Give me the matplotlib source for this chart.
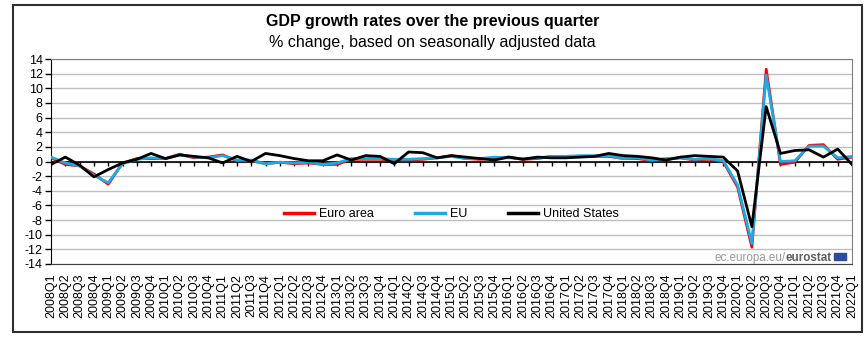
import matplotlib.pyplot as plt
from matplotlib.patches import Rectangle

plt.rcParams['font.family'] = ['Liberation Sans', 'DejaVu Sans']

# quarters 2008Q1 .. 2022Q1
quarters = [f"{y}Q{q}" for y in range(2008, 2023) for q in range(1, 5)][:57]

euro_area = [0.5, -0.4, -0.6, -1.7, -3.1, -0.2, 0.4, 0.4,
             0.4, 1.0, 0.5, 0.6, 0.9, 0.1, 0.1, -0.3,
             -0.1, -0.3, -0.2, -0.4, -0.4, 0.3, 0.3, 0.3,
             0.2, 0.2, 0.3, 0.5, 0.8, 0.4, 0.3, 0.5,
             0.6, 0.3, 0.4, 0.7, 0.7, 0.7, 0.7, 0.7,
             0.4, 0.4, 0.1, 0.3, 0.5, 0.2, 0.3, 0.0,
             -3.5, -11.7, 12.6, -0.4, -0.1, 2.2, 2.3, 0.3,
             0.6]
eu = [0.6, -0.2, -0.6, -1.9, -2.9, -0.3, 0.3, 0.5,
      0.4, 0.9, 0.6, 0.5, 0.8, 0.2, 0.2, -0.3,
      -0.1, -0.2, -0.1, -0.4, -0.2, 0.4, 0.4, 0.4,
      0.3, 0.3, 0.4, 0.5, 0.7, 0.4, 0.4, 0.6,
      0.5, 0.4, 0.5, 0.7, 0.7, 0.8, 0.8, 0.8,
      0.4, 0.5, 0.2, 0.4, 0.5, 0.3, 0.4, 0.1,
      -3.2, -11.2, 11.8, 0.0, 0.1, 2.1, 2.1, 0.5,
      0.7]
united_states = [-0.4, 0.6, -0.5, -2.1, -1.1, -0.2, 0.3, 1.1,
                 0.4, 0.9, 0.7, 0.5, -0.2, 0.7, 0.0, 1.1,
                 0.8, 0.4, 0.1, 0.1, 0.9, 0.2, 0.8, 0.7,
                 -0.3, 1.3, 1.2, 0.5, 0.8, 0.6, 0.4, 0.2,
                 0.6, 0.3, 0.6, 0.5, 0.5, 0.6, 0.7, 1.1,
                 0.8, 0.7, 0.5, 0.2, 0.6, 0.8, 0.7, 0.6,
                 -1.3, -8.9, 7.5, 1.1, 1.5, 1.6, 0.6, 1.7,
                 -0.4]

y_ticks = list(range(-14, 15, 2))

fig = plt.figure(figsize=(8.65, 3.43), dpi=100)
ax = fig.add_axes([51 / 865, 1 - 264 / 343, 801 / 865, 205 / 343])

x = list(range(len(quarters)))
ax.plot(x, euro_area, color='#FF0000', lw=2, label='Euro area', zorder=3)
ax.plot(x, eu, color='#1AAAE6', lw=2, label='EU', zorder=4)
ax.plot(x, united_states, color='black', lw=2, label='United States', zorder=5)

ax.set_xlim(0, len(quarters) - 1)
ax.set_ylim(-14, 14)
ax.set_yticks(y_ticks)
ax.set_yticklabels([str(v) for v in y_ticks], fontsize=9)
ax.yaxis.grid(True, color='#BFBFBF', lw=1)
ax.set_axisbelow(True)
ax.tick_params(axis='y', direction='out', length=4, width=1, pad=2)

ax.set_xticks(x)
ax.set_xticklabels(quarters, rotation=90, fontsize=9)
ax.tick_params(axis='x', length=0, pad=7)

# zero line with category ticks
ax.axhline(0, color='black', lw=1.2, zorder=2)
ax.vlines(x, -0.55, 0, color='black', lw=1, zorder=2)

for s in ['top', 'right']:
    ax.spines[s].set_color('#808080')
ax.spines['left'].set_color('black')
ax.spines['bottom'].set_color('#404040')

leg = ax.legend(loc='center', bbox_to_anchor=(0.5, 0.242), ncol=3, frameon=False,
                fontsize=9, handlelength=2.4, columnspacing=3.3, handletextpad=0.4)
for line in leg.get_lines():
    line.set_linewidth(2.5)

fig.text(0.5, 0.938, 'GDP growth rates over the previous quarter', ha='center',
         va='center', fontsize=11.5, fontweight='bold')
fig.text(0.5, 0.875, '% change, based on seasonally adjusted data', ha='center',
         va='center', fontsize=11.5)

# eurostat watermark
tx = 0.975
wm1 = ax.text(tx, 0.017, 'ec.europa.eu/', transform=ax.transAxes, ha='right',
              va='baseline', fontsize=8.4, color='#9A9A9A')
wm2 = ax.text(tx, 0.017, 'eurostat', transform=ax.transAxes, ha='right',
              va='baseline', fontsize=8.4, color='#606060', fontweight='bold')
fig.canvas.draw()
w = wm2.get_window_extent()
wm1.set_position((tx - w.width / ax.bbox.width, 0.017))
ax.add_patch(Rectangle((0.9775, 0.02), 0.015, 0.032, transform=ax.transAxes,
                       color='#2A4BA0', zorder=6))

fig.patches.append(Rectangle((13 / 865, 1 - 332 / 343), 849 / 865, 327 / 343,
                             transform=fig.transFigure, fill=False,
                             edgecolor='#303030', lw=1.5))

fig.savefig('out.png', dpi=100)
